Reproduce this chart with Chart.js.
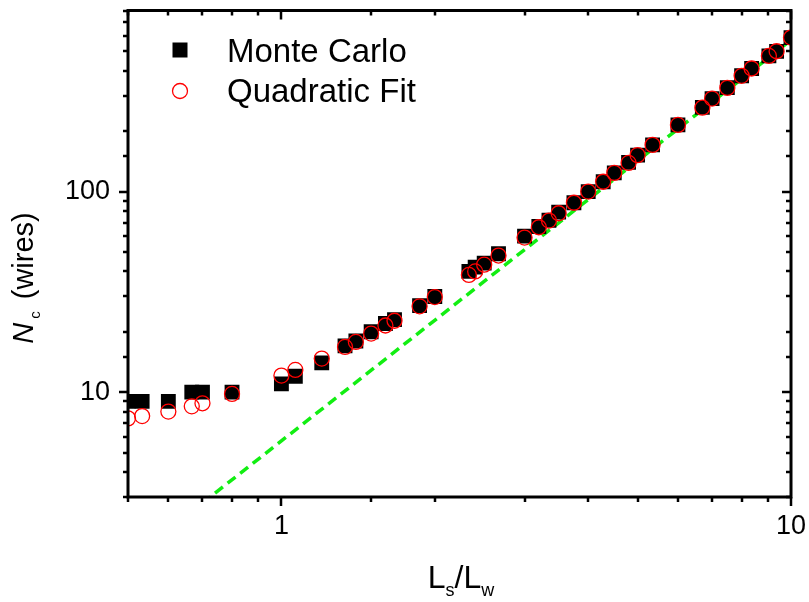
<!DOCTYPE html>
<html>
<head>
<meta charset="utf-8">
<script src="https://cdn.jsdelivr.net/npm/chart.js@4.4.0/dist/chart.umd.min.js"></script>
<style>
  html, body { margin: 0; padding: 0; background: #fff; }
  #wrap { width: 809px; height: 602px; }
</style>
</head>
<body>
<div id="wrap"><canvas id="chart" width="809" height="602"></canvas></div>
<script>
// L_s / L_w ratio of each simulated case
const ratio = [0.5, 0.533, 0.6, 0.667, 0.7, 0.8, 1.0, 1.065, 1.2, 1.333, 1.4, 1.5, 1.6, 1.667, 1.867, 2.0,
  2.333, 2.4, 2.5, 2.667, 3.0, 3.2, 3.35, 3.5, 3.75, 4.0, 4.28, 4.5, 4.8, 5.0, 5.35, 6.0, 6.7, 7.0, 7.5, 8.0,
  8.37, 9.05, 9.37, 10.0];
// critical number of wires
const monteCarlo = [9, 9, 9, 10, 10, 10, 11, 12, 14, 17, 18, 20, 22, 23, 27, 30,
  40, 42, 44, 49, 60, 67, 72, 79, 88, 100, 112, 124, 140, 152, 171, 215, 263, 291, 330, 378,
  411, 475, 500, 586];
const quadFit = [7.4, 7.6, 8.0, 8.5, 8.8, 9.8, 12.1, 12.9, 14.7, 16.8, 17.8, 19.6, 21.5, 22.7, 26.8, 29.8,
  38.4, 40.0, 43.2, 48, 59, 66.4, 71.7, 78, 88, 100, 112, 124, 139, 152, 171, 215, 262, 291, 329, 378,
  411, 475, 501, 586];
// ends of the green dashed guide line
const guideX = [0.7, 10];
const guideY = [2.8, 570];

const legendLabels = ['Monte Carlo', 'Quadratic Fit'];

const FONT = '"Liberation Sans", Arial, sans-serif';

function toPoints(xs, ys) {
  return xs.map((v, i) => ({ x: v, y: ys[i] }));
}

function isDecade(v) {
  const l = Math.log10(v);
  return Math.abs(l - Math.round(l)) < 1e-9;
}

// draws text pieces [text, font, baselineShift, gapBefore] centred on x=cx
function drawRich(ctx, parts, cx, y) {
  let total = 0;
  parts.forEach(p => { ctx.font = p[1]; total += (p[3] || 0) + ctx.measureText(p[0]).width; });
  let x = cx - total / 2;
  parts.forEach(p => {
    ctx.font = p[1];
    x += p[3] || 0;
    ctx.fillText(p[0], x, y + p[2]);
    x += ctx.measureText(p[0]).width;
  });
}

// frame, mirrored ticks, legend and axis titles with subscripts
const decorPlugin = {
  id: 'decor',
  afterDraw(chart) {
    const ctx = chart.ctx;
    const a = chart.chartArea;
    const xs = chart.scales.x;
    const ys = chart.scales.y;
    ctx.save();
    ctx.strokeStyle = '#000';
    ctx.lineWidth = 2.5;
    ctx.beginPath();
    xs.ticks.forEach(t => {
      const px = Math.round(xs.getPixelForValue(t.value));
      const len = isDecade(t.value) ? 9 : 5;
      ctx.moveTo(px, a.bottom); ctx.lineTo(px, a.bottom + len);
      ctx.moveTo(px, a.top); ctx.lineTo(px, a.top + len);
    });
    ys.ticks.forEach(t => {
      const py = Math.round(ys.getPixelForValue(t.value));
      const len = isDecade(t.value) ? 9 : 5;
      ctx.moveTo(a.left, py); ctx.lineTo(a.left - len, py);
      ctx.moveTo(a.right, py); ctx.lineTo(a.right - len, py);
    });
    ctx.stroke();
    ctx.lineWidth = 3;
    ctx.strokeRect(a.left, a.top, a.right - a.left, a.bottom - a.top);

    // legend
    const mc = chart.data.datasets[1];
    const qf = chart.data.datasets[0];
    ctx.fillStyle = mc.backgroundColor;
    ctx.fillRect(172.5, 42.5, 15, 15);
    ctx.beginPath();
    ctx.arc(180, 91, 7.5, 0, Math.PI * 2);
    ctx.strokeStyle = qf.borderColor;
    ctx.lineWidth = qf.borderWidth;
    ctx.stroke();
    ctx.fillStyle = '#000';
    ctx.font = '33px ' + FONT;
    ctx.textBaseline = 'alphabetic';
    ctx.textAlign = 'left';
    ctx.fillText(legendLabels[0], 227, 62);
    ctx.fillText(legendLabels[1], 227, 102);

    // x title: L_s/L_w
    const big = '32px ' + FONT, small = '18px ' + FONT;
    drawRich(ctx, [['L', big, 0], ['s', small, 8], ['/', big, 0], ['L', big, 0], ['w', small, 8]], 461, 588);

    // y title: N_c (wires)
    ctx.translate(33, 278);
    ctx.rotate(-Math.PI / 2);
    drawRich(ctx, [
      ['N', 'italic 29px ' + FONT, 0, 0],
      ['c', '15px ' + FONT, 7, 4],
      ['(wires)', '29px ' + FONT, 0, 12]
    ], 0, 0);
    ctx.restore();
  }
};

const tickLabel = v => (isDecade(v) ? String(Math.round(v)) : '');

// keep the plot box where the reference has it
function fixBox(s, size) {
  if (s.isHorizontal()) s.height = size; else s.width = size;
  s.paddingTop = 0;
  s.paddingBottom = 0;
  s.paddingLeft = 0;
  s.paddingRight = 0;
}

new Chart(document.getElementById('chart'), {
  type: 'scatter',
  data: {
    datasets: [
      {
        label: legendLabels[1],
        data: toPoints(ratio, quadFit),
        pointStyle: 'circle',
        pointRadius: 7.5,
        borderColor: '#ff0000',
        borderWidth: 1.3,
        backgroundColor: 'rgba(0,0,0,0)',
        clip: 0,
        order: 0
      },
      {
        label: legendLabels[0],
        data: toPoints(ratio, monteCarlo),
        pointStyle: 'rect',
        pointRadius: 10.5,
        borderWidth: 0,
        backgroundColor: '#000000',
        clip: 0,
        order: 1
      },
      {
        label: 'guide',
        data: toPoints(guideX, guideY),
        showLine: true,
        pointRadius: 0,
        borderColor: '#12ee12',
        borderWidth: 3.5,
        borderDash: [10, 6],
        clip: 0,
        order: 2
      }
    ]
  },
  options: {
    responsive: false,
    animation: false,
    layout: { padding: { top: 9, right: 18, left: 0, bottom: 0 } },
    plugins: {
      legend: { display: false },
      tooltip: { enabled: false }
    },
    scales: {
      x: {
        type: 'logarithmic',
        position: 'bottom',
        min: 0.5,
        max: 10,
        grid: { display: false, drawTicks: false },
        border: { display: false },
        ticks: {
          autoSkip: false,
          maxRotation: 0,
          padding: 13,
          color: '#000',
          font: { family: FONT, size: 27 },
          callback: tickLabel
        },
        afterFit: s => fixBox(s, 105)
      },
      y: {
        type: 'logarithmic',
        position: 'left',
        min: 3,
        max: 800,
        grid: { display: false, drawTicks: false },
        border: { display: false },
        ticks: {
          autoSkip: false,
          padding: 18,
          color: '#000',
          font: { family: FONT, size: 27 },
          callback: tickLabel
        },
        afterFit: s => fixBox(s, 128)
      }
    }
  },
  plugins: [decorPlugin]
});
</script>
</body>
</html>
